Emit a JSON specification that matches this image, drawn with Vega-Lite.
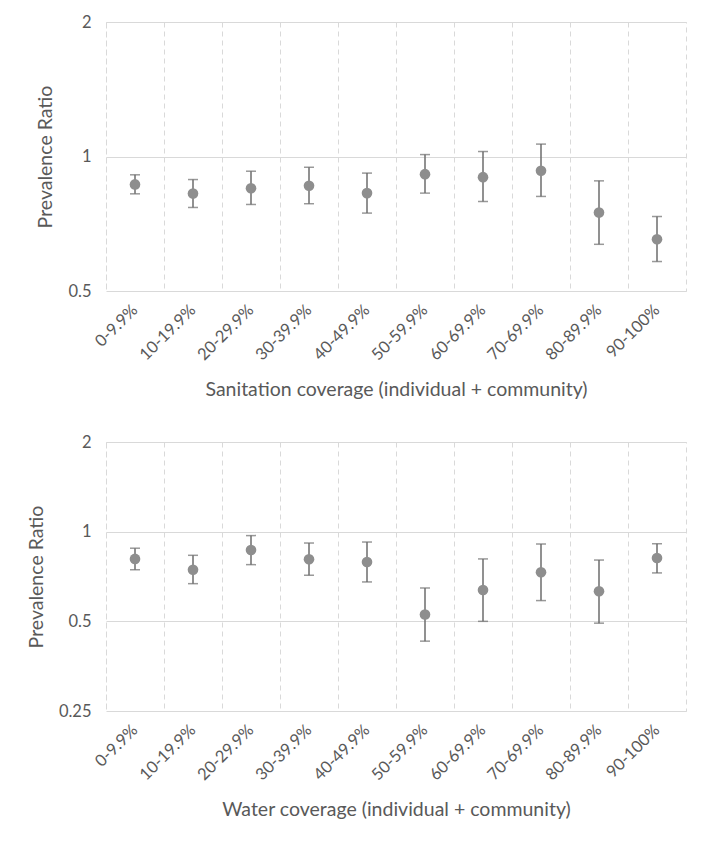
{
  "$schema": "https://vega.github.io/schema/vega-lite/v6.json",
  "padding": {"left": 25, "top": 13, "right": 14, "bottom": 5},
  "background": "white",
  "spacing": 33,
  "config": {
    "font": "Lato",
    "view": {"stroke": "#d9d9d9", "strokeDash": [5, 4]},
    "axis": {
      "labelColor": "#595959",
      "titleColor": "#595959",
      "labelFontSize": 16.5,
      "titleFontSize": 19.5,
      "titleFontWeight": "normal",
      "gridColor": "#d9d9d9",
      "gridWidth": 1,
      "domain": false,
      "ticks": false
    }
  },
  "datasets": {
    "sanitation": [
      {"coverage": "0-9.9%", "pr": 0.866, "lower": 0.825, "upper": 0.910},
      {"coverage": "10-19.9%", "pr": 0.826, "lower": 0.769, "upper": 0.888},
      {"coverage": "20-29.9%", "pr": 0.849, "lower": 0.781, "upper": 0.927},
      {"coverage": "30-39.9%", "pr": 0.860, "lower": 0.784, "upper": 0.946},
      {"coverage": "40-49.9%", "pr": 0.828, "lower": 0.747, "upper": 0.918},
      {"coverage": "50-59.9%", "pr": 0.913, "lower": 0.828, "upper": 1.010},
      {"coverage": "60-69.9%", "pr": 0.899, "lower": 0.793, "upper": 1.026},
      {"coverage": "70-69.9%", "pr": 0.929, "lower": 0.814, "upper": 1.066},
      {"coverage": "80-89.9%", "pr": 0.749, "lower": 0.636, "upper": 0.882},
      {"coverage": "90-100%", "pr": 0.653, "lower": 0.582, "upper": 0.734}
    ],
    "water": [
      {"coverage": "0-9.9%", "pr": 0.810, "lower": 0.745, "upper": 0.880},
      {"coverage": "10-19.9%", "pr": 0.745, "lower": 0.669, "upper": 0.833},
      {"coverage": "20-29.9%", "pr": 0.868, "lower": 0.775, "upper": 0.970},
      {"coverage": "30-39.9%", "pr": 0.808, "lower": 0.714, "upper": 0.916},
      {"coverage": "40-49.9%", "pr": 0.791, "lower": 0.678, "upper": 0.923},
      {"coverage": "50-59.9%", "pr": 0.527, "lower": 0.429, "upper": 0.647},
      {"coverage": "60-69.9%", "pr": 0.637, "lower": 0.500, "upper": 0.810},
      {"coverage": "70-69.9%", "pr": 0.731, "lower": 0.587, "upper": 0.909},
      {"coverage": "80-89.9%", "pr": 0.631, "lower": 0.493, "upper": 0.803},
      {"coverage": "90-100%", "pr": 0.816, "lower": 0.727, "upper": 0.911}
    ]
  },
  "vconcat": [
    {
      "width": 580,
      "height": 269,
      "data": {"name": "sanitation"},
      "encoding": {
        "x": {
          "field": "coverage", "type": "nominal", "sort": null,
          "scale": {"paddingInner": 0, "paddingOuter": 0},
          "axis": {
            "title": "Sanitation coverage (individual + community)",
            "labelAngle": -45, "labelAlign": "right", "labelBaseline": "middle",
            "grid": true, "gridDash": [5, 4], "bandPosition": 0,
            "labelPadding": 16, "titlePadding": 17
          }
        }
      },
      "layer": [
        {
          "mark": {"type": "rule", "color": "#6d6d6d", "strokeWidth": 1.5},
          "encoding": {
            "y": {"field": "lower", "type": "quantitative",
              "scale": {"type": "log", "domain": [0.5, 2], "nice": false, "padding": 0},
              "axis": {"values": [0.5, 1, 2], "format": "~g", "title": "Prevalence Ratio", "labelPadding": 15, "titlePadding": 12}},
            "y2": {"field": "upper"}
          }
        },
        {
          "mark": {"type": "tick", "color": "#6d6d6d", "thickness": 1.5, "size": 10},
          "encoding": {"y": {"field": "lower", "type": "quantitative"}}
        },
        {
          "mark": {"type": "tick", "color": "#6d6d6d", "thickness": 1.5, "size": 10},
          "encoding": {"y": {"field": "upper", "type": "quantitative"}}
        },
        {
          "mark": {"type": "circle", "color": "#8e8e8e", "opacity": 1, "size": 113},
          "encoding": {"y": {"field": "pr", "type": "quantitative"}}
        }
      ]
    },
    {
      "width": 580,
      "height": 269,
      "data": {"name": "water"},
      "encoding": {
        "x": {
          "field": "coverage", "type": "nominal", "sort": null,
          "scale": {"paddingInner": 0, "paddingOuter": 0},
          "axis": {
            "title": "Water coverage (individual + community)",
            "labelAngle": -45, "labelAlign": "right", "labelBaseline": "middle",
            "grid": true, "gridDash": [5, 4], "bandPosition": 0,
            "labelPadding": 16, "titlePadding": 17
          }
        }
      },
      "layer": [
        {
          "mark": {"type": "rule", "color": "#6d6d6d", "strokeWidth": 1.5},
          "encoding": {
            "y": {"field": "lower", "type": "quantitative",
              "scale": {"type": "log", "domain": [0.25, 2], "nice": false, "padding": 0},
              "axis": {"values": [0.25, 0.5, 1, 2], "format": "~g", "title": "Prevalence Ratio", "labelPadding": 15, "titlePadding": 12}},
            "y2": {"field": "upper"}
          }
        },
        {
          "mark": {"type": "tick", "color": "#6d6d6d", "thickness": 1.5, "size": 10},
          "encoding": {"y": {"field": "lower", "type": "quantitative"}}
        },
        {
          "mark": {"type": "tick", "color": "#6d6d6d", "thickness": 1.5, "size": 10},
          "encoding": {"y": {"field": "upper", "type": "quantitative"}}
        },
        {
          "mark": {"type": "circle", "color": "#8e8e8e", "opacity": 1, "size": 113},
          "encoding": {"y": {"field": "pr", "type": "quantitative"}}
        }
      ]
    }
  ]
}
